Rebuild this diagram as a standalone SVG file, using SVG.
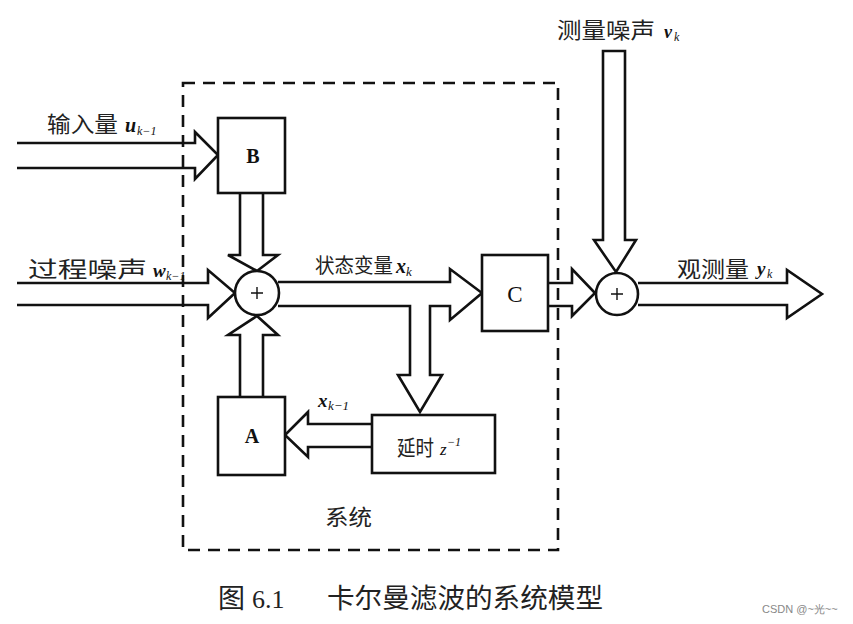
<svg xmlns="http://www.w3.org/2000/svg" width="853" height="624" viewBox="0 0 853 624">
<style>
.ar{fill:#fff;stroke:#111;stroke-width:2.6;stroke-linejoin:miter}
.bx{fill:#fff;stroke:#111;stroke-width:2.6}
.cn{font-family:"Liberation Serif","Noto Sans CJK SC",serif;fill:#222}
.m{font-family:"Liberation Serif",serif;font-style:italic;font-weight:bold;fill:#111}
.sb{font-family:"Liberation Serif",serif;font-style:italic;fill:#111}
.lb{font-family:"Liberation Serif",serif;fill:#111;text-anchor:middle}
.pl{fill:none;stroke:#111;stroke-width:1.4}
.dash{fill:none;stroke:#111;stroke-width:2.6;stroke-dasharray:12,8}
</style>
<rect width="853" height="624" fill="#fff"/>
<g id="connectors">
<path class="ar" d="M17,143 L195,143 L195,132 L218,155 L195,179 L195,168 L17,168"/>
<path class="ar" d="M17,283 L208,283 L208,270 L235,293 L208,318 L208,305 L17,305"/>
<path class="ar" d="M240,193 L240,255 L228,255 L257,271 L278,255 L263,255 L263,193"/>
<path class="ar" d="M240,397 L240,335 L228,335 L257,316 L278,335 L263,335 L263,397"/>
<path class="ar" d="M278,282 L450,282 L450,269 L482,293 L450,320 L450,306 L430,306 L430,375 L442,375 L420,412 L398,375 L410,375 L410,306 L278,306"/>
<path class="ar" d="M372,424 L308,424 L308,412 L285,435 L308,457 L308,447 L372,447"/>
<path class="ar" d="M548,283 L572,283 L572,269 L595,293 L572,316 L572,306 L548,306"/>
<path class="ar" d="M603,240 L603,51 L625,51 L625,240 L636,240 L616,272 L594,240 Z"/>
<path class="ar" d="M638,283 L787,283 L787,270 L822,294 L787,318 L787,305 L638,305"/>
</g>
<g id="system">
<rect class="dash" x="183" y="83" width="375" height="467"/>
<text class="cn" x="325" y="525" font-size="22" textLength="47" lengthAdjust="spacingAndGlyphs">系统</text>
</g>
<g id="B">
<rect class="bx" x="218" y="118" width="67" height="75"/>
<text class="lb" x="253" y="163" font-size="20" font-weight="bold">B</text>
</g>
<g id="A">
<rect class="bx" x="218" y="397" width="67" height="78"/>
<text class="lb" x="252" y="443" font-size="20" font-weight="bold">A</text>
</g>
<g id="C">
<rect class="bx" x="482" y="255" width="66" height="76"/>
<text class="lb" x="515" y="302" font-size="23">C</text>
</g>
<g id="sum1">
<circle class="bx" cx="257" cy="293" r="22"/>
<path class="pl" d="M251,293 H263 M257,287 V299"/>
</g>
<g id="sum2">
<circle class="bx" cx="617" cy="294" r="21"/>
<path class="pl" d="M611,294 H623 M617,288 V300"/>
</g>
<g id="delay">
<rect class="bx" x="372" y="415" width="123" height="58"/>
<text class="cn" x="397" y="455" font-size="21" textLength="37" lengthAdjust="spacingAndGlyphs">延时</text>
<text class="sb" x="440" y="455" font-size="17">z</text>
<text class="sb" x="447" y="446" font-size="12">−1</text>
</g>
<g id="labels">
<text class="cn" x="47" y="132" font-size="22" textLength="71" lengthAdjust="spacingAndGlyphs">输入量</text>
<text class="m" x="125" y="132" font-size="20">u</text>
<text class="sb" x="137" y="135" font-size="12">k−1</text>
<text class="cn" x="28" y="277" font-size="22" textLength="119" lengthAdjust="spacingAndGlyphs">过程噪声</text>
<text class="m" x="153" y="277" font-size="19">w</text>
<text class="sb" x="166" y="280" font-size="12">k−1</text>
<text class="cn" x="315" y="273" font-size="20" textLength="78" lengthAdjust="spacingAndGlyphs">状态变量</text>
<text class="m" x="396" y="273" font-size="20">x</text>
<text class="sb" x="406" y="276" font-size="13">k</text>
<text class="m" x="318" y="407" font-size="19">x</text>
<text class="sb" x="328" y="410" font-size="13">k−1</text>
<text class="cn" x="557" y="38" font-size="22" textLength="98" lengthAdjust="spacingAndGlyphs">测量噪声</text>
<text class="m" x="664" y="38" font-size="18">ν</text>
<text class="sb" x="674" y="41" font-size="12">k</text>
<text class="cn" x="677" y="277" font-size="22" textLength="72" lengthAdjust="spacingAndGlyphs">观测量</text>
<text class="m" x="757" y="275" font-size="19">y</text>
<text class="sb" x="767" y="278" font-size="12">k</text>
</g>
<g id="caption">
<text class="cn" x="218" y="608" font-size="27">图</text>
<text class="cn" x="252" y="608" font-size="26" font-family="Liberation Serif">6.1</text>
<text class="cn" x="327" y="608" font-size="27" textLength="276" lengthAdjust="spacingAndGlyphs">卡尔曼滤波的系统模型</text>
<text x="762" y="613" font-size="11" font-family="Liberation Sans,sans-serif" fill="#888">CSDN @~光~~</text>
</g>
</svg>
